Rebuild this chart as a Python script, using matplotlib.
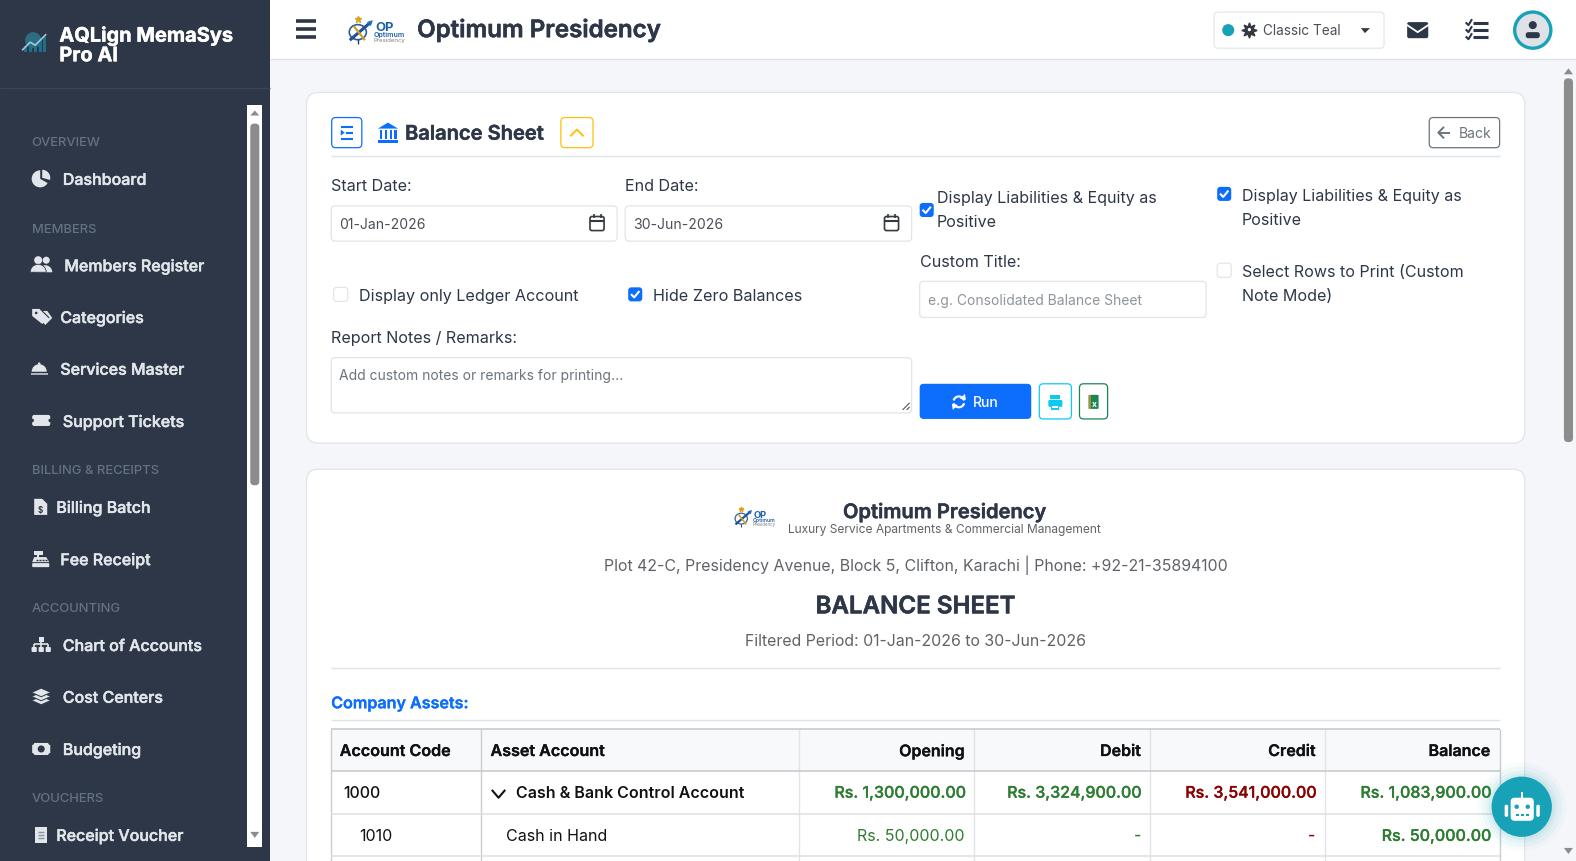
import matplotlib
matplotlib.use("Agg")
import matplotlib.pyplot as plt
import matplotlib.patheffects as pe
from matplotlib.patches import FancyBboxPatch, Rectangle, Circle, Wedge, Polygon, Ellipse

plt.rcParams['font.family'] = ['Inter', 'Noto Sans', 'DejaVu Sans']

# sidebar contents
sections = ["OVERVIEW", "MEMBERS", "BILLING & RECEIPTS", "ACCOUNTING", "VOUCHERS"]
section_y = [141, 227, 467, 605, 794]
menu_items = ["Dashboard", "Members Register", "Categories", "Services Master", "Support Tickets",
              "Billing Batch", "Fee Receipt", "Chart of Accounts", "Cost Centers", "Budgeting",
              "Receipt Voucher"]
menu_x = [62.5, 64, 60, 60, 62.5, 56, 60, 62.5, 62.5, 62.5, 56]
menu_y = [178, 264, 315.5, 367, 419, 504.5, 556.5, 642, 693.5, 745.5, 831]
menu_icons = ["pie", "people", "tag", "bell", "ticket", "file", "register", "tree", "layers", "money", "receipt"]

# table
col_edges = [329.5, 479, 795, 969, 1144, 1318, 1492]
row_edges = [726, 767, 810, 852]
headers = ["Account Code", "Asset Account", "Opening", "Debit", "Credit", "Balance"]
codes = ["1000", "1010"]
accounts = ["Cash & Bank Control Account", "Cash in Hand"]
opening = ["Rs. 1,300,000.00", "Rs. 50,000.00"]
debit = ["Rs. 3,324,900.00", "-"]
credit = ["Rs. 3,541,000.00", "-"]
balance = ["Rs. 1,083,900.00", "Rs. 50,000.00"]

DARK = "#2d3748"
BLUE = "#0d6efd"
TEAL = "#17a2b8"
CYAN = "#0dcaf0"
LINE = "#e1e4e8"
GREEN = "#2e7d32"
RED = "#8b0000"
SIDE = "#e2e6ea"

fig = plt.figure(figsize=(15.76, 8.61), dpi=100)
ax = fig.add_axes([0, 0, 1, 1])
ax.set_xlim(0, 1568)
ax.set_ylim(857, 0)
ax.axis("off")


def txt(x, y, s, px=16, color=DARK, weight="normal", ha="left", thick=0):
    t = ax.text(x, y, s, fontsize=px * 0.72, color=color, fontweight=weight, ha=ha, va="center_baseline", zorder=5)
    if thick:
        t.set_path_effects([pe.withStroke(linewidth=thick, foreground=color)])


def box(x0, y0, x1, y1, fc="white", ec="none", lw=0.9, r=4, z=2):
    p = FancyBboxPatch((x0, y0), x1 - x0, y1 - y0, boxstyle="round,pad=0,rounding_size=%s" % r,
                       fc=fc, ec=ec, lw=lw, zorder=z)
    ax.add_patch(p)


def rect(x0, y0, x1, y1, c, z=1):
    ax.add_patch(Rectangle((x0, y0), x1 - x0, y1 - y0, fc=c, ec="none", zorder=z))


def line(xs, ys, c, lw=1, z=3):
    ax.plot(xs, ys, color=c, lw=lw, zorder=z, solid_capstyle="butt")


def poly(pts, c, z=4):
    ax.add_patch(Polygon(pts, fc=c, ec="none", zorder=z))


def check(x, y, on=True):
    if on:
        box(x, y, x + 14, y + 14, fc=BLUE, r=3)
        ax.plot([x + 3.5, x + 6, x + 10.5], [y + 7.5, y + 10, y + 4.5], color="white", lw=1.5, zorder=4)
    else:
        box(x, y, x + 14, y + 14, fc="white", ec="#e3e6e9", r=3)


def calendar(x, y):
    box(x, y, x + 14, y + 14, fc="none", ec="#343a40", lw=1.2, r=2, z=4)
    line([x, x + 14], [y + 4, y + 4], "#343a40", 1.5, 4)
    line([x + 3.5, x + 3.5], [y - 2, y + 1], "#343a40", 1.2, 4)
    line([x + 10.5, x + 10.5], [y - 2, y + 1], "#343a40", 1.2, 4)


def side_icon(kind, cx, cy):
    c = SIDE
    bg = DARK
    if kind == "pie":
        ax.add_patch(Wedge((cx - 1, cy), 8.5, 30, 270, fc=c, zorder=4))
        ax.add_patch(Wedge((cx + 1, cy - 1), 8, 270, 15, fc=c, zorder=4))
    elif kind == "people":
        ax.add_patch(Circle((cx - 3, cy - 5), 4, fc=c, zorder=4))
        ax.add_patch(Circle((cx + 5, cy - 5), 3.5, fc=c, zorder=4))
        ax.add_patch(Wedge((cx + 4, cy + 7), 7, 180, 360, fc=c, zorder=4))
        ax.add_patch(Wedge((cx - 3, cy + 7), 8, 180, 360, fc=c, ec=bg, lw=0.6, zorder=4))
    elif kind == "tag":
        poly([(cx + 1, cy - 6), (cx + 6, cy - 6), (cx + 11, cy + 1), (cx + 4, cy + 8), (cx, cy + 3)], c)
        poly([(cx - 9, cy - 8), (cx - 1, cy - 8), (cx + 8, cy + 1), (cx + 1, cy + 7), (cx - 9, cy - 1)], c)
        line([cx - 1, cx + 8], [cy - 8, cy + 1], bg, 0.8, 5)
        ax.add_patch(Circle((cx - 5, cy - 4), 1.3, fc=bg, zorder=5))
    elif kind == "bell":
        ax.add_patch(Wedge((cx - 2, cy + 3), 7.5, 180, 360, fc=c, zorder=4))
        ax.add_patch(Circle((cx - 2, cy - 5), 1.3, fc=c, zorder=4))
        rect(cx - 10, cy + 4, cx + 7, cy + 6.5, "#aab2bc", 4)
    elif kind == "ticket":
        box(cx - 9, cy - 6, cx + 9, cy + 5, fc=c, r=2, z=4)
        for sx in (cx - 9, cx + 9):
            ax.add_patch(Circle((sx, cy - 0.5), 1.8, fc=bg, zorder=5))
    elif kind == "file":
        poly([(cx - 7, cy - 8), (cx + 1, cy - 8), (cx + 6, cy - 3), (cx + 6, cy + 8), (cx - 7, cy + 8)], c)
        txt(cx - 0.5, cy + 2.5, "$", 8, bg, "bold", "center")
    elif kind == "register":
        rect(cx - 7, cy - 8, cx + 2, cy - 4, c, 4)
        line([cx - 3, cx - 3], [cy - 4, cy - 1], c, 1.5, 4)
        poly([(cx - 7, cy - 2), (cx + 5, cy - 2), (cx + 8, cy + 3), (cx - 9, cy + 3)], c)
        for x in (-5, -2, 1, 4):
            line([cx + x, cx + x + 1.5], [cy + 1, cy + 1], bg, 1, 5)
        box(cx - 9, cy + 4, cx + 8, cy + 8, fc=c, r=1, z=4)
    elif kind == "tree":
        rect(cx - 2.5, cy - 8, cx + 2.5, cy - 3, c, 4)
        for dx in (-7, 0, 7):
            box(cx + dx - 2.6, cy + 2, cx + dx + 2.6, cy + 7, fc=c, r=1, z=4)
            line([cx + dx, cx + dx], [cy - 1, cy + 2], c, 1.2, 4)
        line([cx - 7, cx + 7], [cy - 1, cy - 1], c, 1.2, 4)
        line([cx, cx], [cy - 3, cy - 1], c, 1.2, 4)
    elif kind == "layers":
        for dy in (4, 0, -4):
            poly([(cx - 9, cy + dy), (cx, cy + dy - 4), (cx + 9, cy + dy), (cx, cy + dy + 4)], c)
            line([cx - 9, cx, cx + 9], [cy + dy, cy + dy + 4, cy + dy], bg, 0.7, 5)
    elif kind == "money":
        box(cx - 9, cy - 6, cx + 9, cy + 6, fc=c, r=1, z=4)
        ax.add_patch(Circle((cx, cy), 3.5, fc=bg, zorder=5))
        for sx in (cx - 9, cx + 9):
            for sy in (cy - 6, cy + 6):
                ax.add_patch(Circle((sx, sy), 2, fc=bg, zorder=5))
    elif kind == "receipt":
        rect(cx - 6, cy - 8, cx + 6, cy + 8, c, 4)
        for dy in (-3, 0, 3):
            line([cx - 3, cx + 3], [cy + dy, cy + dy], "#8a93a0", 1, 5)


def logo(x, y, s=1.0):
    # compass-and-arrow mark next to the OP wordmark
    ax.add_patch(Ellipse((x + 9 * s, y + 1 * s), 17 * s, 15 * s, fc="none", ec="#2f5f8f", lw=1.2 * s, zorder=4))
    line([x + 1 * s, x + 22 * s], [y + 9 * s, y - 9 * s], "#1f4f9f", 2.2 * s, 4)
    poly([(x + 24 * s, y - 11 * s), (x + 18 * s, y - 9 * s), (x + 22 * s, y - 5 * s)], "#1f6fbf", 5)
    line([x + 5 * s, x + 16 * s], [y - 5 * s, y + 9 * s], "#c9a227", 1.6 * s, 4)
    line([x + 9 * s, x + 9 * s], [y + 8 * s, y + 13 * s], "#1f3f6f", 1.0 * s, 4)
    ax.plot([x + 9 * s], [y - 12 * s], marker="*", ms=5 * s, color="#d9a520", zorder=5)
    txt(x + 26 * s, y - 5 * s, "OP", 13 * s, "#1f5fa8", "bold")
    txt(x + 25 * s, y + 3.5 * s, "Optimum", 7 * s, "#1f5fa8", "semibold")
    txt(x + 25 * s, y + 9 * s, "Presidency", 6 * s, "#808080")


# backgrounds
rect(0, 0, 1568, 857, "#f4f6f9", 0)
rect(0, 0, 269, 857, DARK, 1)
rect(269, 0, 1568, 59, "white", 1)
line([269, 1568], [59, 59], "#dfe2e6", 1)
line([0, 269], [88, 88], "#3a4556", 1)

# sidebar brand
ax.add_patch(Circle((33, 40), 8, fc="#2f7f96", alpha=0.75, zorder=2))
for dx, h in zip([24, 29, 34, 39, 43], [6, 9, 8, 12, 15]):
    rect(dx, 52 - h, dx + 3, 52, "#1f6f8a", 2)
line([22, 30, 35, 46], [50, 42, 45, 34], "#9fc9d6", 1.2, 3)
txt(59, 34, "AQLign MemaSys", 20, "white", "bold", thick=0.3)
txt(59, 54, "Pro AI", 20, "white", "bold", thick=0.3)

# sidebar menu
for s, y in zip(sections, section_y):
    txt(31.5, y, s, 13, "#657080", "medium")
for name, x, y, kind in zip(menu_items, menu_x, menu_y, menu_icons):
    side_icon(kind, 41, y)
    txt(x, y, name, 16, SIDE, "medium", thick=0.35)

# sidebar scrollbar
rect(246, 105, 261, 843, "white", 2)
box(249, 123, 258, 483, fc="#8c8c8c", r=4, z=3)
poly([(249, 115), (253.5, 110), (258, 115)], "#8c8c8c", 3)
poly([(249, 828), (253.5, 834), (258, 828)], "#8c8c8c", 3)

# top bar
for y in (21, 29, 37):
    line([294, 314], [y, y], DARK, 2.6)
logo(347, 31, 1.0)
txt(415, 28, "Optimum Presidency", 24.1, DARK, "semibold", thick=0.4)
box(1208, 12, 1377, 48, fc="white", ec="#e4e7eb")
ax.add_patch(Circle((1222, 30), 6, fc=TEAL, zorder=4))
ax.plot([1243], [29.5], marker=(8, 1, 0), ms=11, color="#343a40", zorder=4)
ax.add_patch(Circle((1243, 29.5), 2.2, fc="white", ec="#343a40", lw=0.8, zorder=5))
txt(1257, 29.5, "Classic Teal", 13.6, "#495057")
poly([(1354, 28), (1358, 33), (1363, 28)], "#343a40")
box(1400, 22, 1421, 38, fc=DARK, r=2, z=4)
ax.plot([1400, 1410.5, 1421], [25, 32, 25], color="white", lw=1.3, zorder=5)
for y in (23, 30, 37):
    line([1466, 1480], [y, y], DARK, 2.2, 4)
    ax.plot([1459, 1461, 1464], [y, y + 2, y - 3], color=DARK, lw=1.5, zorder=4)
ax.add_patch(Ellipse((1525, 30), 36, 36, fc="#dee2e6", ec=TEAL, lw=2.4, zorder=4))
ax.add_patch(Circle((1525, 25), 4, fc=DARK, zorder=5))
box(1518, 32, 1532, 38, fc=DARK, r=2.5, z=5)

# main scrollbar
box(1556, 78, 1565, 440, fc="#8c8c8c", r=4, z=3)
poly([(1556, 74), (1560.5, 68), (1565, 74)], "#8c8c8c", 3)
poly([(1556, 844), (1560.5, 850), (1565, 844)], "#8c8c8c", 3)

# filter card
box(305, 92, 1517, 441, fc="white", ec=LINE, r=12)
box(330, 117, 360, 147, fc="white", ec=BLUE, r=4)
for y, x0 in zip((126, 132, 138), (339, 344, 339)):
    line([x0, 351], [y, y], BLUE, 1.5, 4)
poly([(339, 129), (343, 132), (339, 135)], BLUE)
poly([(376, 128), (386, 122), (396, 128)], BLUE)
for x in (378, 383, 388, 392):
    rect(x, 129, x + 2.5, 138, BLUE, 4)
rect(376, 139, 396, 142, BLUE, 4)
txt(403, 132, "Balance Sheet", 20.1, DARK, "semibold", thick=0.35)
box(558, 117, 590, 147, fc="white", ec="#ffc107", r=4)
ax.plot([568, 574, 580], [135, 129, 135], color="#ffc107", lw=1.4, zorder=4)
box(1422, 117, 1492, 147, fc="white", ec="#6c757d", r=4)
ax.plot([1436, 1431, 1436], [127, 132, 137], color="#6c757d", lw=1.4, zorder=4)
line([1431, 1443], [132, 132], "#6c757d", 1.4, 4)
txt(1451, 132, "Back", 14, "#6c757d")
line([329.5, 1492], [155, 155], "#dfe2e6", 1)

txt(329.5, 184, "Start Date:", 16.1)
box(329.5, 205, 614, 240, fc="white", ec=LINE)
txt(337, 222.5, "01-Jan-2026", 14, "#495057")
calendar(587, 215.5)
txt(622, 184, "End Date:", 16.1)
box(622, 205, 907, 240, fc="white", ec=LINE)
txt(630, 222.5, "30-Jun-2026", 14, "#495057")
calendar(880, 215.5)

check(915, 202, True)
txt(932, 196.5, "Display Liabilities & Equity as", 16.05)
txt(932, 220, "Positive", 16.05)
check(1211, 186, True)
txt(1235.5, 194, "Display Liabilities & Equity as", 16.05)
txt(1235.5, 218, "Positive", 16.05)
txt(915, 260, "Custom Title:", 16.1)
box(915, 280, 1200, 316, fc="white", ec=LINE)
txt(923, 298, "e.g. Consolidated Balance Sheet", 13.9, "#8f959b")
check(1211, 262, False)
txt(1235.5, 270, "Select Rows to Print (Custom", 16.05)
txt(1235.5, 294, "Note Mode)", 16.05)
check(332, 286, False)
txt(357, 294, "Display only Ledger Account", 16.15)
check(625, 286, True)
txt(650, 294, "Hide Zero Balances", 16.15)
txt(329.5, 335.5, "Report Notes / Remarks:", 16.1)
box(329.5, 356, 907, 411, fc="white", ec=LINE)
txt(337, 373, "Add custom notes or remarks for printing...", 13.9, "#6c757d")
line([898, 905], [408, 401], "#555555", 0.8, 4)
line([902, 905], [408, 405], "#555555", 0.8, 4)

box(915, 382, 1026, 417, fc=BLUE, r=4)
ax.add_patch(Wedge((954, 400), 6.5, 195, 345, width=2.2, fc="white", zorder=4))
ax.add_patch(Wedge((954, 400), 6.5, 15, 165, width=2.2, fc="white", zorder=4))
poly([(960, 392), (961, 398), (955, 397)], "white")
poly([(948, 408), (947, 402), (953, 403)], "white")
txt(968, 400, "Run", 14, "white", "medium")
box(1034, 382, 1066, 417, fc="white", ec=CYAN, r=4)
rect(1045, 393, 1055, 397, CYAN, 4)
box(1043, 398, 1057, 405, fc=CYAN, r=1.5, z=4)
rect(1046, 403, 1054, 408, CYAN, 5)
rect(1047, 404, 1053, 406.5, "white", 6)
box(1074, 382, 1102, 417, fc="white", ec="#198754", r=4)
box(1083, 393, 1093, 407, fc="#198754", r=1, z=4)
rect(1083, 393, 1085, 407, "#b58a1e", 5)
txt(1088.5, 402, "x", 8.5, "white", "bold", "center")

# report card
box(305, 467, 1517, 900, fc="white", ec=LINE, r=12)
logo(731, 515.5, 0.72)
txt(940, 508.5, "Optimum Presidency", 20.1, DARK, "semibold", "center", thick=0.3)
txt(940, 526, "Luxury Service Apartments & Commercial Management", 12, "#5f6368", "normal", "center")
txt(911, 560.5, "Plot 42-C, Presidency Avenue, Block 5, Clifton, Karachi | Phone: +92-21-35894100", 15.9, "#5f6368", "normal", "center")
txt(911, 602, "BALANCE SHEET", 24.1, DARK, "semibold", "center", thick=0.4)
txt(911, 637, "Filtered Period: 01-Jan-2026 to 30-Jun-2026", 15.85, "#5f6368", "normal", "center")
line([329.5, 1492], [665, 665], "#dfe2e6", 1)
txt(329.5, 699, "Company Assets:", 16.1, BLUE, "semibold", thick=0.2)
line([329.5, 1492], [717, 717], "#dfe2e6", 1)

# table
rect(col_edges[0], row_edges[0], col_edges[-1], row_edges[1], "#f8f9fa", 2)
for i, x in enumerate(col_edges):
    line([x, x], [row_edges[0], 857], "#c9ccd1" if i in (0, 1, 6) else LINE, 1)
for i, y in enumerate(row_edges):
    line([col_edges[0], col_edges[-1]], [y, y], "#c4c7cc" if i < 2 else "#dcdfe3", 1.1)

txt(338, 746.5, headers[0], 16.1, "#111111", "semibold", thick=0.2)
txt(488, 746.5, headers[1], 16.1, "#111111", "semibold", thick=0.2)
for h, x in zip(headers[2:], col_edges[3:]):
    txt(x - 9, 746.5, h, 16, "#111111", "semibold", "right", thick=0.2)

row_y = [788, 831]
code_x = [342, 357.5]
acct_x = [513, 503]
acct_weight = ["semibold", "normal"]
open_weight = ["medium", "normal"]
row_thick = [0.2, 0]
for i in range(2):
    txt(code_x[i], row_y[i], codes[i], 16, "#111111", "medium" if i == 0 else "normal")
    txt(acct_x[i], row_y[i], accounts[i], 16, "#111111", acct_weight[i])
    txt(col_edges[3] - 9, row_y[i], opening[i], 16, GREEN, open_weight[i], "right", thick=row_thick[i])
    txt(col_edges[4] - 9, row_y[i], debit[i], 16, GREEN, "medium", "right", thick=row_thick[i])
    txt(col_edges[5] - 9, row_y[i], credit[i], 16, RED, "medium", "right", thick=row_thick[i])
    txt(col_edges[6] - 9, row_y[i], balance[i], 16, GREEN, "medium", "right", thick=0.2)
ax.plot([490, 496, 502], [787, 794, 787], color="#111111", lw=1.5, zorder=4)

# chat button
for r, a in zip((44, 40, 36, 33), (0.03, 0.04, 0.05, 0.07)):
    ax.add_patch(Circle((1514, 803), r, fc=TEAL, alpha=a, ec="none", zorder=6))
ax.add_patch(Circle((1514, 803), 30, fc=TEAL, zorder=7))
box(1503, 794, 1526, 817, fc="white", r=4, z=8)
box(1497, 801, 1500.5, 813, fc="white", r=1.5, z=8)
box(1528.5, 801, 1532, 813, fc="white", r=1.5, z=8)
rect(1513.5, 788, 1515.5, 794, "white", 8)
ax.add_patch(Circle((1509, 803), 2.2, fc=TEAL, zorder=9))
ax.add_patch(Circle((1520, 803), 2.2, fc=TEAL, zorder=9))
for x in (1508, 1513, 1518):
    line([x, x + 3], [811.5, 811.5], TEAL, 1.5, 9)

fig.savefig("out.png", dpi=100)
